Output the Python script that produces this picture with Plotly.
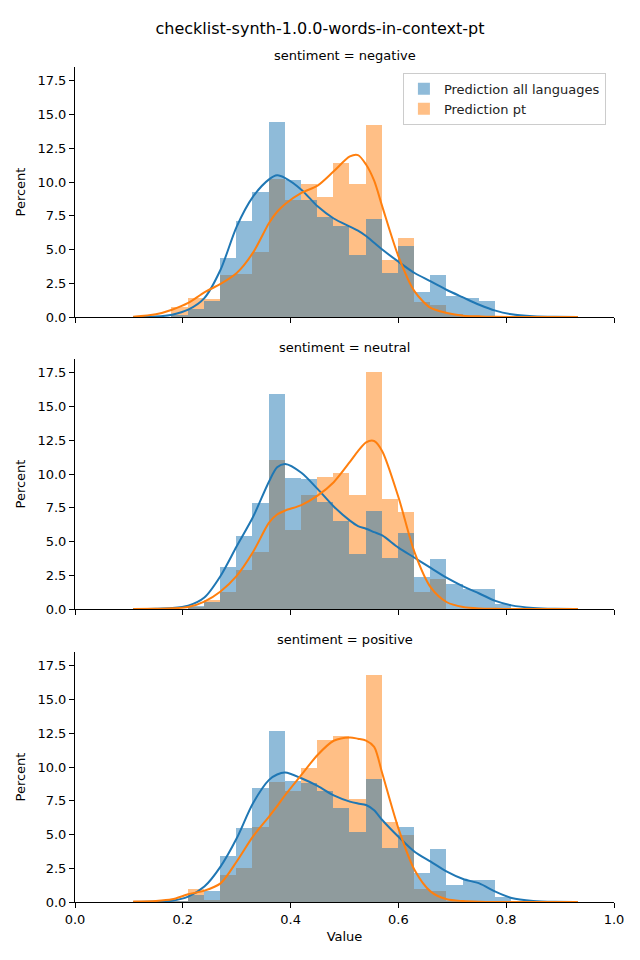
import plotly.graph_objects as go

# ---------------- data ----------------
facets = ["negative", "neutral", "positive"]
series_names = ["Prediction all languages", "Prediction pt"]

bin_left = [0.179, 0.209, 0.239, 0.269, 0.299, 0.329, 0.359, 0.389, 0.419, 0.449,
            0.479, 0.509, 0.539, 0.569, 0.599, 0.629, 0.659, 0.689, 0.719, 0.749, 0.779]
bin_width = 0.03

# histogram percentages per facet
all_neg = [0.15, 0.6, 1.16, 4.37, 7.14, 9.29, 14.48, 10.18, 8.7, 7.41, 6.72, 4.62, 7.29,
           3.26, 5.24, 1.88, 3.14, 1.53, 1.4, 1.2, 0]
pt_neg = [0.74, 1.4, 1.33, 3.09, 3.21, 4.84, 10.2, 8.7, 9.89, 8.9, 11.44, 9.89, 14.26,
          4.25, 5.88, 1.09, 0.87, 0.25, 0.05, 0, 0]
all_neu = [0, 0.25, 0.55, 3.14, 5.44, 7.86, 15.97, 9.74, 9.66, 7.96, 6.55, 4.10, 7.29,
           3.81, 5.66, 2.37, 3.73, 1.88, 1.51, 1.51, 0.4]
pt_neu = [0, 0.15, 0.64, 1.29, 2.92, 4.25, 11.07, 5.88, 8.48, 9.79, 10.08, 8.48, 17.6,
          8.18, 7.22, 1.29, 2.25, 0, 0, 0, 0]
all_pos = [0.1, 0.52, 0.84, 3.41, 5.49, 8.45, 12.68, 9.0, 8.8, 8.23, 7.0, 5.19, 9.12,
           4.0, 5.56, 2.15, 3.93, 1.26, 1.63, 1.63, 0.37]
pt_pos = [0.1, 0.96, 0.15, 2.0, 2.52, 5.56, 8.9, 8.2, 9.94, 12.0, 12.3, 7.64, 16.83,
          5.93, 4.99, 0.96, 0.82, 0.1, 0, 0, 0]

# KDE curves
kde_x = [0.108, 0.15, 0.18, 0.21, 0.24, 0.27, 0.30, 0.33, 0.36, 0.375, 0.39, 0.42, 0.45,
         0.48, 0.51, 0.525, 0.54, 0.555, 0.57, 0.60, 0.63, 0.66, 0.69, 0.72, 0.75, 0.78,
         0.81, 0.85, 0.89, 0.933]
kde_all_neg = [0, 0.03, 0.17, 0.54, 1.4, 3.5, 6.7, 8.9, 10.2, 10.5, 10.3, 9.44, 8.2,
               7.3, 6.7, 6.4, 6.0, 5.5, 5.0, 4.1, 3.26, 2.64, 2.0, 1.45, 0.91, 0.47,
               0.2, 0.06, 0.01, 0]
kde_pt_neg = [0.02, 0.2, 0.54, 1.04, 1.83, 2.45, 3.26, 4.75, 6.97, 7.8, 8.38, 9.2, 9.74,
              10.8, 11.9, 12.0, 11.3, 10.1, 8.2, 4.5, 1.9, 0.67, 0.3, 0.1, 0.05, 0.01,
              0, 0, 0, 0]
kde_all_neu = [0, 0.02, 0.07, 0.25, 0.85, 2.45, 4.65, 6.8, 9.45, 10.5, 10.75, 10.1, 8.9,
               7.6, 6.55, 6.15, 5.95, 5.7, 5.45, 4.55, 3.8, 3.05, 2.3, 1.68, 1.15, 0.6,
               0.27, 0.08, 0.01, 0]
kde_pt_neu = [0, 0.01, 0.05, 0.15, 0.55, 1.3, 2.45, 4.2, 6.4, 7.0, 7.3, 7.7, 8.4,
              9.4, 10.9, 11.7, 12.35, 12.45, 11.7, 8.3, 4.2, 1.6, 0.5, 0.15, 0.04, 0.01,
              0, 0, 0, 0]
kde_all_pos = [0, 0.03, 0.1, 0.4, 1.14, 2.62, 4.72, 7.3, 9.05, 9.45, 9.59, 9.17, 8.6,
               7.9, 7.44, 7.3, 7.19, 6.8, 6.08, 4.84, 3.73, 2.99, 2.25, 1.7, 1.38, 0.77,
               0.3, 0.08, 0.01, 0]
kde_pt_pos = [0.03, 0.08, 0.2, 0.57, 0.84, 1.38, 3.0, 4.84, 6.33, 7.1, 7.93, 9.42, 10.9,
              11.95, 12.2, 12.1, 11.96, 11.5, 9.54, 5.46, 2.37, 0.77, 0.2, 0.07, 0.02, 0,
              0, 0, 0, 0]

hist_all = [all_neg, all_neu, all_pos]
hist_pt = [pt_neg, pt_neu, pt_pos]
kde_all = [kde_all_neg, kde_all_neu, kde_all_pos]
kde_pt = [kde_pt_neg, kde_pt_neu, kde_pt_pos]

y_ticks = [0, 2.5, 5.0, 7.5, 10.0, 12.5, 15.0, 17.5]
x_ticks = [0.0, 0.2, 0.4, 0.6, 0.8, 1.0]

# ---------------- figure ----------------
W, H = 640, 960
ML, MR, MT, MB = 75, 26, 67, 58
plot_h = H - MT - MB
panel_top_px = [67, 359, 652]
panel_bot_px = [317, 609, 902]

BLUE = "#1f77b4"
ORANGE = "#ff7f0e"

fig = go.Figure()
layout_axes = {}
annotations = []
font_family = "DejaVu Sans"

for i, facet in enumerate(facets):
    n = i + 1
    xa = "x" if n == 1 else f"x{n}"
    ya = "y" if n == 1 else f"y{n}"
    # orange drawn first, blue on top
    fig.add_trace(go.Bar(
        x=bin_left, y=hist_pt[i], width=bin_width, offset=0,
        marker=dict(color="rgba(255,127,14,0.5)", line=dict(width=0)),
        name=series_names[1], legendgroup="pt", showlegend=(i == 0),
        legendrank=2, xaxis=xa, yaxis=ya))
    fig.add_trace(go.Bar(
        x=bin_left, y=hist_all[i], width=bin_width, offset=0,
        marker=dict(color="rgba(31,119,180,0.5)", line=dict(width=0)),
        name=series_names[0], legendgroup="all", showlegend=(i == 0),
        legendrank=1, xaxis=xa, yaxis=ya))
    fig.add_trace(go.Scatter(
        x=kde_x, y=kde_all[i], mode="lines",
        line=dict(color=BLUE, width=2, shape="spline", smoothing=0.8),
        showlegend=False, hoverinfo="skip", xaxis=xa, yaxis=ya))
    fig.add_trace(go.Scatter(
        x=kde_x, y=kde_pt[i], mode="lines",
        line=dict(color=ORANGE, width=2, shape="spline", smoothing=0.8),
        showlegend=False, hoverinfo="skip", xaxis=xa, yaxis=ya))

    d0 = (H - MB - panel_bot_px[i]) / plot_h
    d1 = (H - MB - panel_top_px[i]) / plot_h
    xkey = "xaxis" if n == 1 else f"xaxis{n}"
    ykey = "yaxis" if n == 1 else f"yaxis{n}"
    layout_axes[xkey] = dict(
        domain=[0, 1], range=[0, 1], anchor=ya,
        tickvals=x_ticks, ticktext=[f"{v:.1f}" for v in x_ticks],
        showticklabels=(n == 3), ticks="outside", ticklen=5, tickwidth=1,
        tickcolor="black", showline=True, linecolor="black", linewidth=1,
        showgrid=False, zeroline=False,
        title=dict(text="Value" if n == 3 else "", standoff=6,
                   font=dict(size=13, color="black")),
        tickfont=dict(size=13, color="black"))
    layout_axes[ykey] = dict(
        domain=[d0, min(d1, 1)], range=[0, 18.53], anchor=xa,
        tickvals=y_ticks, ticktext=[f"{v:.1f}" for v in y_ticks],
        ticks="outside", ticklen=5, tickwidth=1, tickcolor="black",
        showline=True, linecolor="black", linewidth=1,
        showgrid=False, zeroline=False,
        title=dict(text="Percent", standoff=8, font=dict(size=13, color="black")),
        tickfont=dict(size=13, color="black"))
    annotations.append(dict(
        text=f"sentiment = {facet}", xref="paper", yref="paper",
        x=0.5, y=(H - MB - (panel_top_px[i] - 12)) / plot_h,
        xanchor="center", yanchor="middle", showarrow=False,
        font=dict(size=13, color="black")))

fig.update_layout(
    width=W, height=H,
    margin=dict(l=ML, r=MR, t=MT, b=MB),
    paper_bgcolor="white", plot_bgcolor="white",
    font=dict(family=font_family, size=13, color="black"),
    barmode="overlay", bargap=0,
    title=dict(text="checklist-synth-1.0.0-words-in-context-pt",
               x=0.5, xanchor="center", y=1 - 28 / H, yanchor="middle",
               font=dict(size=16, color="black")),
    legend=dict(x=0.985, y=0.993, xanchor="right", yanchor="top",
                bgcolor="rgba(255,255,255,0.8)", bordercolor="#cccccc",
                borderwidth=1, font=dict(size=13, color="#222222"),
                traceorder="normal"),
    annotations=annotations,
    **layout_axes,
)

fig.write_html("out.html",
               config={"displayModeBar": False},
               post_script="document.body.style.margin='0px';document.body.style.padding='0px';")
